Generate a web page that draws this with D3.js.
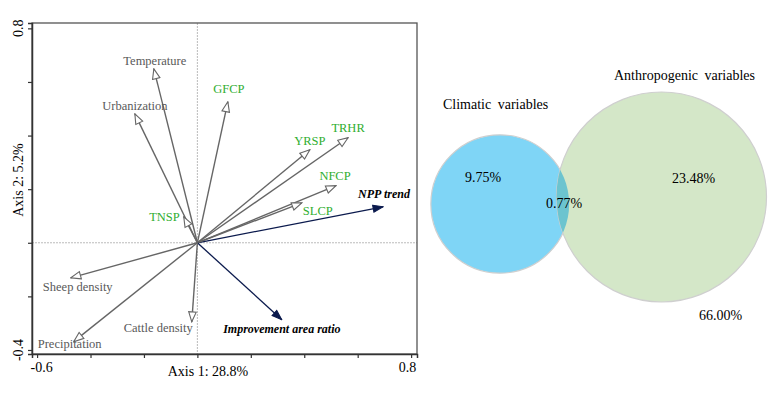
<!DOCTYPE html>
<html>
<head>
<meta charset="utf-8">
<script src="https://cdn.jsdelivr.net/npm/d3@7"></script>
<style>
  body { margin: 0; background: #fff; }
  svg text { font-family: 'Liberation Serif', 'Times New Roman', Times, serif; }
</style>
</head>
<body>
<div id="chart"></div>
<script>
// ordination (RDA) arrows
const varNames = ['Temperature', 'Urbanization', 'GFCP', 'YRSP', 'TRHR', 'NFCP', 'NPP trend', 'SLCP',
	'Improvement area ratio', 'TNSP', 'Sheep density', 'Precipitation', 'Cattle density']
const axis1 = [-0.163, -0.234, 0.114, 0.421, 0.564, 0.519, 0.695, 0.391, 0.316, -0.051, -0.474, -0.463, -0.021]
const axis2 = [0.649, 0.481, 0.526, 0.347, 0.392, 0.213, 0.134, 0.149, -0.287, 0.097, -0.131, -0.369, -0.295]
const varGroup = ['env', 'env', 'human', 'human', 'human', 'human', 'resp', 'human', 'resp', 'human', 'env', 'env', 'env']

const xTicks = [-0.6, -0.4, -0.2, 0, 0.2, 0.4, 0.6, 0.8]
const yTicks = [-0.4, -0.2, 0, 0.2, 0.4, 0.6, 0.8]
const xTickLabels = ['-0.6', '', '', '', '', '', '', '0.8']
const yTickLabels = ['-0.4', '', '', '', '', '', '0.8']
const xTitle = 'Axis 1: 28.8%'
const yTitle = 'Axis 2: 5.2%'

// variance partitioning (venn)
const vennSets = ['Climatic variables', 'Anthropogenic variables']
const vennUnique = [9.75, 23.48]
const vennShared = 0.77
const vennResidual = 66.00

const width = 784
const height = 399
const serif = "'Liberation Serif', 'Times New Roman', Times, serif"

const svg = d3.select('#chart').append('svg')
	.attr('width', width)
	.attr('height', height)
	.attr('font-family', serif)

/**
 * Ordination plot
 */
const x = d3.scaleLinear().domain([-0.619, 0.822]).range([32, 417])
const y = d3.scaleLinear().domain([-0.415, 0.82]).range([354, 23])

// label placement relative to arrow tip: [dx, dy, anchor]
const labelPos = {
	'Temperature': [1, -4, 'middle'],
	'Urbanization': [0, -4, 'middle'],
	'GFCP': [1, -9, 'middle'],
	'YRSP': [0, -5, 'middle'],
	'TRHR': [0, -6, 'middle'],
	'NFCP': [-1, -6, 'middle'],
	'NPP trend': [1, -9, 'middle'],
	'SLCP': [1, 12, 'start'],
	'Improvement area ratio': [0, 13, 'middle'],
	'TNSP': [-4, 4, 'end'],
	'Sheep density': [7, 13, 'middle'],
	'Precipitation': [-4, 6, 'middle'],
	'Cattle density': [1, 10, 'end']
}
const labelColor = {env: '#595959', human: '#2fae2f', resp: '#000'}

const defs = svg.append('defs')
defs.append('marker')
	.attr('id', 'openHead')
	.attr('viewBox', '-1 -5 12 10')
	.attr('refX', 10).attr('refY', 0)
	.attr('markerWidth', 12).attr('markerHeight', 10)
	.attr('markerUnits', 'userSpaceOnUse')
	.attr('orient', 'auto')
	.append('path')
	.attr('d', 'M0,-3.8L10,0L0,3.8Z')
	.attr('fill', '#fff')
	.attr('stroke', '#666')
	.attr('stroke-width', 1.1)
defs.append('marker')
	.attr('id', 'fillHead')
	.attr('viewBox', '-1 -5 12 10')
	.attr('refX', 10).attr('refY', 0)
	.attr('markerWidth', 12).attr('markerHeight', 10)
	.attr('markerUnits', 'userSpaceOnUse')
	.attr('orient', 'auto')
	.append('path')
	.attr('d', 'M0,-3.5L10,0L0,3.5Z')
	.attr('fill', '#0b1a4d')
	.attr('stroke', '#0b1a4d')

// zero lines
svg.append('line')
	.attr('x1', x(0)).attr('x2', x(0)).attr('y1', 23).attr('y2', 354)
	.attr('stroke', '#aaa').attr('stroke-width', 0.8).attr('stroke-dasharray', '2,1')
svg.append('line')
	.attr('x1', 32).attr('x2', 417).attr('y1', y(0)).attr('y2', y(0))
	.attr('stroke', '#aaa').attr('stroke-width', 0.8).attr('stroke-dasharray', '2,1')

// frame
svg.append('rect')
	.attr('x', 32).attr('y', 23).attr('width', 385).attr('height', 331)
	.attr('fill', 'none').attr('stroke', '#555').attr('stroke-width', 1.3)

// axes
const xAxis = svg.append('g')
	.attr('transform', 'translate(0,354)')
	.call(d3.axisBottom(x).tickValues(xTicks).tickSize(4).tickFormat((d, i) => xTickLabels[i]))
	.attr('font-family', serif)
xAxis.select('.domain').attr('stroke', '#333').attr('stroke-width', 1.5)
xAxis.selectAll('.tick line').attr('stroke', '#333').attr('stroke-width', 1.2)
xAxis.selectAll('.tick text')
	.attr('font-size', 14).attr('fill', '#000')
	.attr('dy', 11)
	.attr('dx', (d, i) => i === 0 ? 4 : -4)

const yAxis = svg.append('g')
	.attr('transform', 'translate(32,0)')
	.call(d3.axisLeft(y).tickValues(yTicks).tickSize(4).tickFormat(''))
yAxis.select('.domain').attr('stroke', '#333').attr('stroke-width', 1.5)
yAxis.selectAll('.tick line').attr('stroke', '#333').attr('stroke-width', 1.2)

svg.append('g').selectAll('text')
	.data(yTicks.filter((d, i) => yTickLabels[i]))
	.join('text')
	.attr('transform', d => `translate(23,${y(d)})rotate(-90)`)
	.attr('text-anchor', 'middle')
	.attr('font-size', 14)
	.text(d => yTickLabels[yTicks.indexOf(d)])

svg.append('text')
	.attr('x', 208).attr('y', 376)
	.attr('text-anchor', 'middle').attr('font-size', 14)
	.text(xTitle)
svg.append('text')
	.attr('transform', `translate(23,180)rotate(-90)`)
	.attr('text-anchor', 'middle').attr('font-size', 14)
	.text(yTitle)

// arrows
const arrows = varNames.map((name, i) => ({name, a1: axis1[i], a2: axis2[i], group: varGroup[i]}))

svg.append('g').selectAll('line')
	.data(arrows)
	.join('line')
	.attr('x1', x(0)).attr('y1', y(0))
	.attr('x2', d => x(d.a1)).attr('y2', d => y(d.a2))
	.attr('stroke', d => d.group === 'resp' ? '#0b1a4d' : '#666')
	.attr('stroke-width', d => d.group === 'resp' ? 1.3 : 1.4)
	.attr('marker-end', d => d.group === 'resp' ? 'url(#fillHead)' : 'url(#openHead)')

svg.append('g').selectAll('text')
	.data(arrows)
	.join('text')
	.attr('x', d => x(d.a1) + labelPos[d.name][0])
	.attr('y', d => y(d.a2) + labelPos[d.name][1])
	.attr('text-anchor', d => labelPos[d.name][2])
	.attr('font-size', d => d.group === 'resp' ? 12 : 12.5)
	.attr('font-weight', d => d.group === 'resp' ? 'bold' : 'normal')
	.attr('font-style', d => d.group === 'resp' ? 'italic' : 'normal')
	.attr('fill', d => labelColor[d.group])
	.text(d => d.name)

/**
 * Venn diagram
 */
const setTotals = vennUnique.map(v => v + vennShared)
const rScale = d3.scaleSqrt().domain([0, d3.max(setTotals)]).range([0, 105])
const vennCenters = [[500, 204], [661.5, 197]]
const vennFill = ['#7fd5f6', '#d4e7c8']

const circles = vennSets.map((name, i) => ({name, cx: vennCenters[i][0], cy: vennCenters[i][1], r: rScale(setTotals[i]), fill: vennFill[i]}))

defs.append('clipPath').attr('id', 'clipAnthro')
	.append('circle')
	.attr('cx', circles[1].cx).attr('cy', circles[1].cy).attr('r', circles[1].r)

const venn = svg.append('g')
venn.selectAll('circle.set')
	.data(circles)
	.join('circle')
	.attr('class', 'set')
	.attr('cx', d => d.cx).attr('cy', d => d.cy).attr('r', d => d.r)
	.attr('fill', d => d.fill)
	.attr('stroke', '#cfcfcf')
	.attr('stroke-width', 1.2)

// overlap
venn.append('circle')
	.attr('cx', circles[0].cx).attr('cy', circles[0].cy).attr('r', circles[0].r)
	.attr('clip-path', 'url(#clipAnthro)')
	.attr('fill', '#6cc4cf')

const fmt = v => v.toFixed(2) + '%'

svg.append('text').attr('x', 443).attr('y', 109).attr('font-size', 14).attr('word-spacing', 3).text(vennSets[0])
svg.append('text').attr('x', 614).attr('y', 80).attr('font-size', 14).attr('word-spacing', 3).text(vennSets[1])
svg.append('text').attr('x', 465).attr('y', 182).attr('font-size', 14).text(fmt(vennUnique[0]))
svg.append('text').attr('x', 672).attr('y', 183).attr('font-size', 14).text(fmt(vennUnique[1]))
svg.append('text').attr('x', 546).attr('y', 208).attr('font-size', 14).text(fmt(vennShared))
svg.append('text').attr('x', 699).attr('y', 320).attr('font-size', 14).text(fmt(vennResidual))
</script>
</body>
</html>
